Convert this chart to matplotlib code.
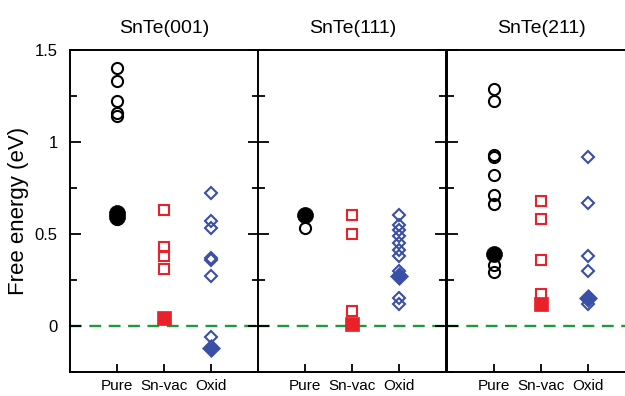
import matplotlib
matplotlib.use("Agg")
import matplotlib.pyplot as plt
from matplotlib.ticker import FixedLocator, FixedFormatter, MultipleLocator

plt.rcParams['font.family'] = ['Liberation Sans', 'DejaVu Sans']

# ---------------- data ----------------
titles = ["SnTe(001)", "SnTe(111)", "SnTe(211)"]
categories = ["Pure", "Sn-vac", "Oxid"]

# SnTe(001)
p001_pure_open = [1.40, 1.33, 1.22, 1.16, 1.14, 0.62, 0.60, 0.58]
p001_pure_fill = [0.615, 0.59]
p001_snvac_open = [0.63, 0.43, 0.38, 0.31]
p001_snvac_fill = [0.04]
p001_oxid_open = [0.72, 0.57, 0.53, 0.37, 0.36, 0.27, -0.06]
p001_oxid_fill = [-0.12]

# SnTe(111)
p111_pure_open = [0.53]
p111_pure_fill = [0.60]
p111_snvac_open = [0.60, 0.50, 0.08]
p111_snvac_fill = [0.01]
p111_oxid_open = [0.60, 0.55, 0.52, 0.49, 0.45, 0.41, 0.38, 0.30, 0.15, 0.12]
p111_oxid_fill = [0.27]

# SnTe(211)
p211_pure_open = [1.29, 1.22, 0.93, 0.92, 0.82, 0.71, 0.66, 0.33, 0.29]
p211_pure_fill = [0.39]
p211_snvac_open = [0.68, 0.58, 0.36, 0.17]
p211_snvac_fill = [0.12]
p211_oxid_open = [0.92, 0.67, 0.38, 0.30, 0.12]
p211_oxid_fill = [0.15]

ytick_vals = [0, 0.5, 1, 1.5]
ytick_labels = ["0", "0.5", "1", "1.5"]

panels = [
    (p001_pure_open, p001_pure_fill, p001_snvac_open, p001_snvac_fill, p001_oxid_open, p001_oxid_fill),
    (p111_pure_open, p111_pure_fill, p111_snvac_open, p111_snvac_fill, p111_oxid_open, p111_oxid_fill),
    (p211_pure_open, p211_pure_fill, p211_snvac_open, p211_snvac_fill, p211_oxid_open, p211_oxid_fill),
]

# ---------------- styles ----------------
BLACK = "#000000"
RED = "#e8212b"
BLUE = "#3a4fa6"
GREEN = "#1e9a3c"

W, H = 625, 396
fig = plt.figure(figsize=(W / 100, H / 100), dpi=100)

lefts_px = [70, 258, 447]
width_px = 188.5
bottom_px = 371.7
top_px = 50

for i, (title, data) in enumerate(zip(titles, panels)):
    ax = fig.add_axes([lefts_px[i] / W, 1 - bottom_px / H, width_px / W, (bottom_px - top_px) / H])
    po, pf, so, sf, oo, of = data
    xs = [1, 2, 3]

    ax.axhline(0, color=GREEN, lw=1.7, ls=(0, (5, 3.2)), zorder=1)

    ax.plot([xs[0]] * len(po), po, ls='none', marker='o', ms=8.0, mfc='none', mec=BLACK, mew=1.5, zorder=3)
    ax.plot([xs[0]] * len(pf), pf, ls='none', marker='o', ms=11.5, mfc=BLACK, mec=BLACK, mew=0.5, zorder=4)
    ax.plot([xs[1]] * len(so), so, ls='none', marker='s', ms=6.8, mfc='none', mec=RED, mew=1.5, zorder=3)
    ax.plot([xs[1]] * len(sf), sf, ls='none', marker='s', ms=10, mfc=RED, mec=RED, mew=0.5, zorder=4)
    ax.plot([xs[2]] * len(oo), oo, ls='none', marker='D', ms=6.2, mfc='none', mec=BLUE, mew=1.5, zorder=3)
    ax.plot([xs[2]] * len(of), of, ls='none', marker='D', ms=9, mfc=BLUE, mec=BLUE, mew=0.5, zorder=4)

    ax.set_xlim(0, 4)
    ax.set_ylim(-0.25, 1.5)

    ax.xaxis.set_major_locator(FixedLocator(xs))
    ax.xaxis.set_major_formatter(FixedFormatter(categories))
    ax.yaxis.set_major_locator(FixedLocator(ytick_vals))
    ax.yaxis.set_minor_locator(MultipleLocator(0.25))
    if i == 0:
        ax.yaxis.set_major_formatter(FixedFormatter(ytick_labels))
        ax.set_ylabel("Free energy (eV)", fontsize=16, labelpad=4)
    else:
        ax.set_yticklabels([])

    ax.tick_params(axis='x', which='major', direction='in', length=6, width=1.3,
                   top=False, bottom=True, labelsize=11, pad=5)
    ax.tick_params(axis='y', which='major', direction='in', length=8, width=1.3,
                   left=True, right=True, labelsize=12, pad=9)
    ax.tick_params(axis='y', which='minor', direction='in', length=5, width=1.3,
                   left=True, right=True)
    ax.tick_params(axis='x', which='minor', bottom=False, top=False)

    for sp in ax.spines.values():
        sp.set_linewidth(1.4)
        sp.set_color(BLACK)

    ax.set_title(title, fontsize=14, pad=12)

fig.savefig("out.png", dpi=100)
